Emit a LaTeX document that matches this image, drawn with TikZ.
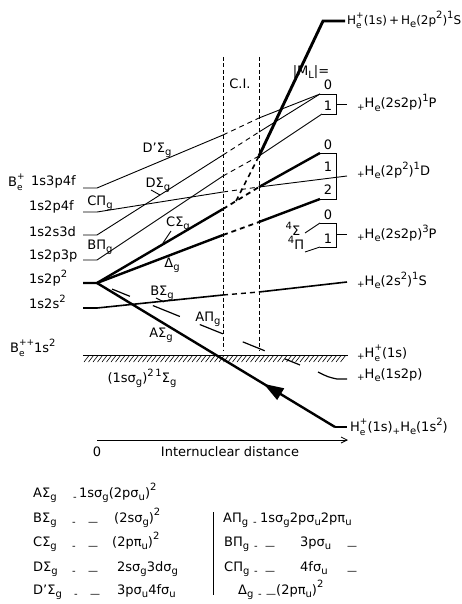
\documentclass[tikz,border=0pt]{standalone}
\usepackage{fontspec}
\setmainfont{DejaVu Sans}
\usetikzlibrary{arrows.meta,decorations.markings}
\newcommand\lo[1]{\raisebox{-0.45ex}{\fontsize{10}{10}\selectfont #1}}
\newcommand\hi[1]{\raisebox{0.85ex}{\fontsize{10}{10}\selectfont #1}}
\newcommand\sbsp[2]{\setbox0\hbox{\fontsize{9}{9}\selectfont #1}\setbox2\hbox{\fontsize{9}{9}\selectfont #2}%
  \ifdim\wd0>\wd2 \dimen0=\wd0 \else \dimen0=\wd2 \fi
  \makebox[\dimen0][l]{\rlap{\raisebox{0.95ex}{\box2}}\raisebox{-0.6ex}{\box0}}}
\newcommand\pl{\raisebox{-0.35ex}{\fontsize{9}{9}\selectfont +}}
\begin{document}
\begin{tikzpicture}[x=1pt,y=-1pt,font=\fontsize{13}{15}\selectfont,
  every node/.style={inner sep=0pt},
  thinl/.style={line width=0.9pt},
  medl/.style={line width=1.6pt},
  thickl/.style={line width=2.4pt},
  vthickl/.style={line width=2.9pt},
  conn/.style={dash pattern=on 5pt off 4pt},
  civert/.style={line width=0.9pt,dash pattern=on 4pt off 2.5pt},
  legend/.style={anchor=base west},
  lbl/.style={anchor=center}]
\useasboundingbox (0,0) rectangle (461,604);

% ---- coordinates
\coordinate (V) at (97,283);
\coordinate (V0) at (83,283);
\coordinate (a0) at (83,188); \coordinate (a1) at (97,188);
\coordinate (b0) at (83,212); \coordinate (b1) at (97,212);
\coordinate (c0) at (83,235); \coordinate (c1) at (97,235);
\coordinate (d0) at (83,260); \coordinate (d1) at (97,260);
\coordinate (e0) at (83,308); \coordinate (e1) at (97,308);
% on first C.I. line
\coordinate (Ldp) at (223,135);
\coordinate (Ld) at (223,155);
\coordinate (Lbp) at (223,176);
\coordinate (Lcp) at (223,192);
\coordinate (Lcs) at (223,209);
\coordinate (Ldel) at (223,235);
\coordinate (Lbs) at (223,295);
\coordinate (Br) at (236,201);
% on second C.I. line
\coordinate (R1) at (259,118);
\coordinate (R2) at (259,132);
\coordinate (R3) at (259,156);
\coordinate (R4) at (259,187);
\coordinate (R5) at (259,222);
\coordinate (R6) at (259,292);
% boxes
\coordinate (P0) at (320,94); \coordinate (P0r) at (336,94);
\coordinate (P1) at (322,114); \coordinate (P1r) at (336,114);
\coordinate (Pm) at (336,104); \coordinate (Pe) at (347,104);
\coordinate (D0) at (320,153); \coordinate (D0r) at (336,153);
\coordinate (D2) at (320,199); \coordinate (D2r) at (336,199);
\coordinate (D1e) at (347,176);
\coordinate (T0) at (320,223); \coordinate (T0r) at (336,223);
\coordinate (T1) at (320,247); \coordinate (T1r) at (336,247);
\coordinate (Tm) at (336,234); \coordinate (Te) at (347,234);
\coordinate (S1) at (347,282);
\coordinate (Top1) at (323,21); \coordinate (Top2) at (345,21);
\coordinate (A1) at (335,427); \coordinate (A2) at (347,427);
\coordinate (Ap2) at (300,365); \coordinate (Ap3) at (318,372);
\coordinate (Ap4) at (337,379); \coordinate (Ap5) at (347,379);

% ---- C.I. vertical lines
\draw[civert] (223,57) coordinate (CIa) -- (223,350) coordinate (CIb);
\draw[civert] (259,57) coordinate (CIc) -- (259,350) coordinate (CId);

% ---- ground line with hatching
\draw[line width=1pt] (83,355) coordinate (G0) -- (348,355) coordinate (G1);
\foreach \x in {84,88.5,...,344} {\draw[line width=0.6pt] (\x,362) -- ++(5,-6.5);}

% ---- D' Sigma_g
\draw[thinl] (a0) -- (a1) -- (Ldp);
\draw[thinl,conn] (Ldp) -- (R1);
\draw[thinl] (R1) -- (P0);
% ---- D Sigma_g
\draw[thinl] (c0) -- (c1) -- (Ld);
\draw[thinl,conn] (Ld) -- (R2);
\draw[thinl] (R2) -- (P0);
% ---- B Pi_g
\draw[thinl] (d0) -- (d1) -- (Lbp);
\draw[thinl,conn] (Lbp) -- (R3);
\draw[thinl] (R3) -- (P1);
% ---- C Pi_g
\draw[thinl] (b0) -- (b1) -- (Lcp);
\draw[thinl,conn] (Lcp) -- (R4);
\draw[thinl] (R4) -- (D1e);
% ---- C Sigma_g
\draw[thickl] (V0) -- (V) -- (Lcs);
\draw[line width=1.8pt,conn] (Lcs) -- (R4);
\draw[thickl] (R4) -- (D0);
% ---- steep branch to He(2p^2)1S
\draw[line width=1.6pt,conn] (Br) -- (R3);
\draw[vthickl,line join=miter] (R3) -- (Top1) -- (Top2);
% ---- Delta_g
\draw[thickl] (V) -- (Ldel);
\draw[line width=1.8pt,conn] (Ldel) -- (R5);
\draw[thickl] (R5) -- (D2);
% ---- B Sigma_g
\draw[medl] (e0) -- (e1) -- (Lbs);
\draw[line width=1.4pt,conn] (Lbs) -- (R6);
\draw[medl] (R6) -- (S1);
% ---- A Sigma_g
\draw[thickl,postaction={decorate},decoration={markings,
  mark=at position 0.70 with {\arrowreversed{Triangle[length=20pt,width=13pt]}}}] (V) -- (A1);
\draw[thickl] (A1) -- (A2);
% ---- A Pi_g (broken line)
\draw[line width=1.2pt,dash pattern=on 0pt off 16.2pt on 19.3pt off 24.8pt on 29.1pt off 21.5pt on 24.8pt off 21.5pt on 23.7pt off 21.6pt on 16.1pt] (V) -- (Ap2);
\draw[line width=1.2pt] (Ap3) .. controls (328,377) .. (Ap4) -- (Ap5);

% ---- term boxes
\draw[thinl] (P0) -- (P0r) -- (P1r) -- (P1);
\draw[thinl] (Pm) -- (Pe);
\draw[thinl] (D0) -- (D0r) -- (D2r) -- (D2);
\draw[thinl] (T0) -- (T0r) -- (T1r) -- (T1);
\draw[thinl] (Tm) -- (Te);

% ---- left level labels
\node[anchor=west] (lBe) at (8,182) {B\sbsp{e}{+}};
\node[anchor=west] (l1) at (31,182) {1s3p4f};
\node[anchor=west] (l2) at (29,207) {1s2p4f};
\node[anchor=west] (l3) at (29,232) {1s2s3d};
\node[anchor=west] (l4) at (29,256) {1s2p3p};
\node[anchor=west] (l5) at (29,278) {1s2p\hi{2}};
\node[anchor=west] (l6) at (29,302) {1s2s\hi{2}};
\node[anchor=west] (l7) at (10,348) {B\sbsp{e}{++}1s\hi{2}};

% ---- curve labels
\node[lbl] (nDp) at (157,150) {D’Σ\lo{g}};
\node[lbl] (nD) at (158,185) {DΣ\lo{g}};
\node[lbl] (nCP) at (100,203) {CΠ\lo{g}};
\node[lbl] (nBP) at (100,247) {BΠ\lo{g}};
\node[lbl] (nCS) at (178,224) {CΣ\lo{g}};
\node[lbl] (nDel) at (172,265) {Δ\lo{g}};
\node[lbl] (nBS) at (162,293) {BΣ\lo{g}};
\node[lbl] (nAP) at (208,319) {AΠ\lo{g}};
\node[lbl] (nAS) at (161,335) {AΣ\lo{g}};
\node[lbl] (nGr) at (142,378) {(1sσ\lo{g})\hi{2\,1}Σ\lo{g}};
\draw[thinl] (151,190) coordinate (kD0) -- (160,195) coordinate (kD1);
\draw[thinl] (171,231) coordinate (kC0) -- (163,243) coordinate (kC1);
\draw[thinl] (156,298) coordinate (kB0) -- (164,302) coordinate (kB1);

\node[lbl] (nCI) at (240,84) {C.I.};
\node[lbl] (nML) at (311,72) {|M\lo{L}|=};
\node[lbl] (nP0) at (328,85) {0};
\node[lbl] (nP1) at (328,106) {1};
\node[lbl] (nD0) at (328,145) {0};
\node[lbl] (nD1) at (328,167) {1};
\node[lbl] (nD2) at (328,190) {2};
\node[lbl] (nT0) at (328,215) {0};
\node[lbl] (nT1) at (328,239) {1};
\node[lbl] (n4S) at (293,229) {\hi{4}Σ};
\node[lbl] (n4P) at (296,243) {\hi{4}Π};
\draw[thinl] (305,233) coordinate (k4S) -- (T0);
\draw[thinl] (305,252) coordinate (k4P) -- (T1);

% ---- right labels
\node[anchor=west,font=\fontsize{12}{14}\selectfont] (rTop) at (347,20) {H\sbsp{e}{+}(1s)\,+\,H\lo{e}(2p\hi{2})\hi{1}S};
\node[anchor=west] (r1P) at (357,103) {\pl H\lo{e}(2s2p)\hi{1}P};
\node[anchor=west] (r1D) at (357,170) {\pl H\lo{e}(2p\hi{2})\hi{1}D};
\node[anchor=west] (r3P) at (357,233) {\pl H\lo{e}(2s2p)\hi{3}P};
\node[anchor=west] (r1S) at (357,280) {\pl H\lo{e}(2s\hi{2})\hi{1}S};
\node[anchor=west] (rHp) at (357,353) {\pl H\sbsp{e}{+}(1s)};
\node[anchor=west] (r1s2p) at (357,375) {\pl H\lo{e}(1s2p)};
\node[anchor=west] (rGnd) at (350,427) {H\sbsp{e}{+}(1s)\pl H\lo{e}(1s\hi{2})};

% ---- axis
\coordinate (X0) at (97,440); \coordinate (X1) at (348,440);
\draw[line width=0.8pt,-{Straight Barb[length=6pt,width=6pt]}] (X0) -- (X1);
\node[lbl] (n0) at (97,452) {0};
\node[lbl] (nIN) at (230,452) {Internuclear distance};

% ---- legend
\node[legend] (g1a) at (33,497) {AΣ\lo{g}};
\node[legend] (g1b) at (73,497) {\lo{-}};
\node[legend] (g1c) at (79,497) {1sσ\lo{g}(2pσ\lo{u})\hi{2}};
\node[legend] (g2a) at (33,522) {BΣ\lo{g}};
\node[legend] (g2b) at (72,522) {\lo{-}};
\node[legend] (g2c) at (88,522) {\lo{—}};
\node[legend] (g2d) at (114,522) {(2sσ\lo{g})\hi{2}};
\node[legend] (g3a) at (33,546) {CΣ\lo{g}};
\node[legend] (g3b) at (72,546) {\lo{-}};
\node[legend] (g3c) at (88,546) {\lo{—}};
\node[legend] (g3d) at (112,546) {(2pπ\lo{u})\hi{2}};
\node[legend] (g4a) at (33,571) {DΣ\lo{g}};
\node[legend] (g4b) at (72,571) {\lo{-}};
\node[legend] (g4c) at (88,571) {\lo{—}};
\node[legend] (g4d) at (117,571) {2sσ\lo{g}3dσ\lo{g}};
\node[legend] (g5a) at (33,594) {D’Σ\lo{g}};
\node[legend] (g5b) at (74,594) {\lo{-}};
\node[legend] (g5c) at (90,594) {\lo{—}};
\node[legend] (g5d) at (117,594) {3pσ\lo{u}4fσ\lo{u}};
\draw[line width=0.9pt] (213,512) coordinate (bar0) -- (213,595) coordinate (bar1);
\node[legend] (h2a) at (223,522) {AΠ\lo{g}};
\node[legend] (h2b) at (253,522) {\lo{-}};
\node[legend] (h2c) at (260,522) {1sσ\lo{g}2pσ\lo{u}2pπ\lo{u}};
\node[legend] (h3a) at (224,546) {BΠ\lo{g}};
\node[legend] (h3b) at (254,546) {\lo{-}};
\node[legend] (h3c) at (265,546) {\lo{—}};
\node[legend] (h3d) at (300,546) {3pσ\lo{u}};
\node[legend] (h3e) at (347,546) {\lo{—}};
\node[legend] (h4a) at (224,571) {CΠ\lo{g}};
\node[legend] (h4b) at (254,571) {\lo{-}};
\node[legend] (h4c) at (265,571) {\lo{—}};
\node[legend] (h4d) at (300,571) {4fσ\lo{u}};
\node[legend] (h4e) at (347,571) {\lo{—}};
\node[legend] (h5a) at (238,594) {Δ\lo{g}};
\node[legend] (h5b) at (258,594) {\lo{-}};
\node[legend] (h5c) at (266,594) {\lo{—}(2pπ\lo{u})\hi{2}};
\end{tikzpicture}
\end{document}
